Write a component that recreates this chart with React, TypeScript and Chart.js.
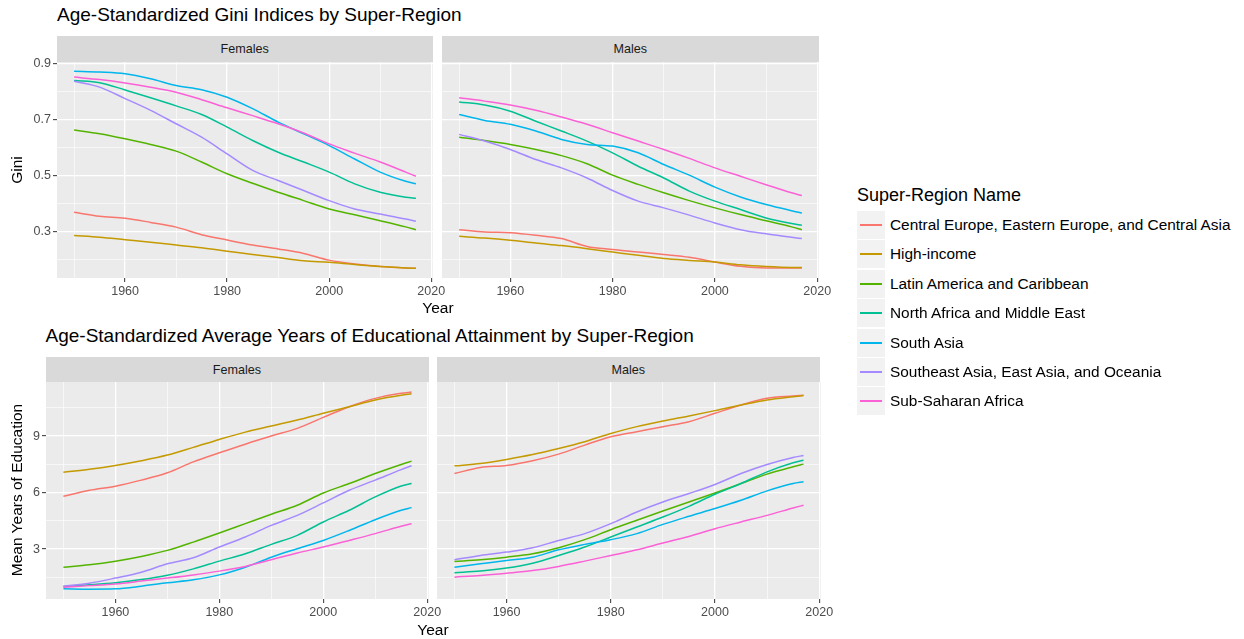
import React, { useEffect, useRef } from "react";
import { Chart, registerables } from "chart.js";

Chart.register(...registerables);

// Sample years shared by every series
const YEARS = [1950, 1955, 1960, 1965, 1970, 1975, 1980, 1985, 1990, 1995, 2000, 2005, 2010, 2015, 2017];

const REGIONS = [
  "Central Europe, Eastern Europe, and Central Asia",
  "High-income",
  "Latin America and Caribbean",
  "North Africa and Middle East",
  "South Asia",
  "Southeast Asia, East Asia, and Oceania",
  "Sub-Saharan Africa",
];

const COLORS = ["#F8766D", "#C49A00", "#53B400", "#00C094", "#00B6EB", "#A58AFF", "#FB61D7"];

// Gini index, females
const giniFemCE = [0.368, 0.354, 0.347, 0.332, 0.315, 0.288, 0.269, 0.251, 0.237, 0.221, 0.197, 0.183, 0.174, 0.169, 0.168];
const giniFemHI = [0.285, 0.279, 0.270, 0.261, 0.251, 0.241, 0.229, 0.217, 0.206, 0.195, 0.189, 0.181, 0.174, 0.169, 0.168];
const giniFemLA = [0.663, 0.649, 0.631, 0.611, 0.587, 0.548, 0.506, 0.472, 0.440, 0.410, 0.380, 0.359, 0.338, 0.316, 0.306];
const giniFemNA = [0.840, 0.832, 0.806, 0.778, 0.749, 0.718, 0.673, 0.625, 0.583, 0.548, 0.512, 0.470, 0.440, 0.422, 0.418];
const giniFemSA = [0.873, 0.870, 0.864, 0.846, 0.822, 0.807, 0.780, 0.739, 0.691, 0.649, 0.607, 0.559, 0.512, 0.479, 0.470];
const giniFemSE = [0.837, 0.816, 0.775, 0.733, 0.685, 0.637, 0.577, 0.518, 0.482, 0.446, 0.410, 0.380, 0.362, 0.344, 0.336];
const giniFemSS = [0.852, 0.843, 0.831, 0.816, 0.798, 0.771, 0.742, 0.714, 0.685, 0.652, 0.613, 0.580, 0.548, 0.512, 0.497];

// Gini index, males
const giniMalCE = [0.306, 0.298, 0.295, 0.286, 0.274, 0.246, 0.235, 0.226, 0.217, 0.207, 0.190, 0.175, 0.169, 0.169, 0.169];
const giniMalHI = [0.282, 0.276, 0.268, 0.258, 0.249, 0.238, 0.226, 0.214, 0.203, 0.196, 0.190, 0.180, 0.174, 0.171, 0.171];
const giniMalLA = [0.637, 0.625, 0.611, 0.593, 0.571, 0.542, 0.501, 0.468, 0.438, 0.410, 0.384, 0.360, 0.338, 0.316, 0.306];
const giniMalNA = [0.763, 0.752, 0.730, 0.694, 0.659, 0.623, 0.581, 0.533, 0.491, 0.444, 0.408, 0.378, 0.348, 0.328, 0.322];
const giniMalSA = [0.718, 0.697, 0.683, 0.659, 0.629, 0.611, 0.605, 0.581, 0.539, 0.501, 0.458, 0.423, 0.396, 0.374, 0.366];
const giniMalSE = [0.647, 0.623, 0.593, 0.557, 0.527, 0.491, 0.446, 0.408, 0.384, 0.358, 0.330, 0.306, 0.291, 0.279, 0.274];
const giniMalSS = [0.778, 0.766, 0.752, 0.733, 0.709, 0.683, 0.653, 0.623, 0.593, 0.561, 0.527, 0.497, 0.467, 0.438, 0.428];

// Mean years of education, females
const eduFemCE = [5.80, 6.12, 6.34, 6.66, 7.05, 7.63, 8.11, 8.57, 9.00, 9.41, 9.99, 10.56, 11.00, 11.27, 11.34];
const eduFemHI = [7.08, 7.24, 7.44, 7.69, 7.99, 8.40, 8.82, 9.21, 9.53, 9.85, 10.21, 10.56, 10.92, 11.17, 11.24];
const eduFemLA = [2.04, 2.17, 2.36, 2.61, 2.93, 3.37, 3.85, 4.35, 4.85, 5.33, 5.98, 6.48, 7.01, 7.49, 7.67];
const eduFemNA = [1.01, 1.10, 1.21, 1.38, 1.61, 1.95, 2.36, 2.75, 3.25, 3.73, 4.44, 5.06, 5.77, 6.35, 6.48];
const eduFemSA = [0.89, 0.87, 0.89, 1.03, 1.21, 1.37, 1.63, 2.04, 2.57, 3.02, 3.46, 3.99, 4.56, 5.06, 5.20];
const eduFemSE = [1.03, 1.19, 1.46, 1.77, 2.22, 2.54, 3.11, 3.64, 4.26, 4.79, 5.45, 6.12, 6.66, 7.22, 7.42];
const eduFemSS = [0.98, 1.06, 1.15, 1.30, 1.46, 1.63, 1.83, 2.08, 2.43, 2.79, 3.11, 3.46, 3.82, 4.21, 4.35];

// Mean years of education, males
const eduMalCE = [7.01, 7.33, 7.44, 7.69, 8.04, 8.52, 8.96, 9.23, 9.50, 9.76, 10.21, 10.65, 11.01, 11.13, 11.17];
const eduMalHI = [7.42, 7.54, 7.76, 8.02, 8.34, 8.70, 9.14, 9.50, 9.80, 10.07, 10.35, 10.65, 10.92, 11.09, 11.15];
const eduMalLA = [2.34, 2.43, 2.57, 2.75, 3.07, 3.50, 4.03, 4.53, 5.02, 5.50, 5.98, 6.48, 6.98, 7.37, 7.51];
const eduMalNA = [1.74, 1.83, 1.99, 2.25, 2.66, 3.11, 3.64, 4.17, 4.70, 5.27, 5.91, 6.48, 7.10, 7.58, 7.72];
const eduMalSA = [2.04, 2.22, 2.40, 2.57, 2.96, 3.25, 3.50, 3.82, 4.31, 4.74, 5.15, 5.59, 6.09, 6.48, 6.57];
const eduMalSE = [2.43, 2.66, 2.84, 3.07, 3.46, 3.82, 4.35, 4.97, 5.50, 5.95, 6.43, 7.01, 7.49, 7.86, 7.97];
const eduMalSS = [1.51, 1.60, 1.72, 1.86, 2.08, 2.36, 2.66, 2.96, 3.32, 3.67, 4.08, 4.44, 4.79, 5.18, 5.33];

// Axis breaks (major carry labels, minor only grid lines)
const X_MAJOR = [1960, 1980, 2000, 2020];
const X_MINOR = [1950, 1970, 1990, 2010];
const GINI_MAJOR = [0.3, 0.5, 0.7, 0.9];
const GINI_MINOR = [0.2, 0.4, 0.6, 0.8];
const EDU_MAJOR = [3, 6, 9];
const EDU_MINOR = [1.5, 4.5, 7.5, 10.5];

const X_RANGE = [1946.65, 2020.35];
const GINI_RANGE = [0.133, 0.906];
const EDU_RANGE = [0.35, 11.87];

const FONT = "'Liberation Sans', Arial, Helvetica, sans-serif";

type PanelDef = {
  left: number;
  top: number;
  right: number;
  bottom: number;
  series: number[][];
  yRange: number[];
  yMajor: number[];
  yMinor: number[];
  showYLabels: boolean;
};

const AX_W = 40;
const PAD_T = 12;
const PAD_R = 24;
const AX_H = 24;

const PANELS: PanelDef[] = [
  {
    left: 57, top: 62, right: 432.5, bottom: 278,
    series: [giniFemCE, giniFemHI, giniFemLA, giniFemNA, giniFemSA, giniFemSE, giniFemSS],
    yRange: GINI_RANGE, yMajor: GINI_MAJOR, yMinor: GINI_MINOR, showYLabels: true,
  },
  {
    left: 442, top: 62, right: 818.5, bottom: 278,
    series: [giniMalCE, giniMalHI, giniMalLA, giniMalNA, giniMalSA, giniMalSE, giniMalSS],
    yRange: GINI_RANGE, yMajor: GINI_MAJOR, yMinor: GINI_MINOR, showYLabels: false,
  },
  {
    left: 45.5, top: 382, right: 428.5, bottom: 599,
    series: [eduFemCE, eduFemHI, eduFemLA, eduFemNA, eduFemSA, eduFemSE, eduFemSS],
    yRange: EDU_RANGE, yMajor: EDU_MAJOR, yMinor: EDU_MINOR, showYLabels: true,
  },
  {
    left: 436.5, top: 382, right: 820, bottom: 599,
    series: [eduMalCE, eduMalHI, eduMalLA, eduMalNA, eduMalSA, eduMalSE, eduMalSS],
    yRange: EDU_RANGE, yMajor: EDU_MAJOR, yMinor: EDU_MINOR, showYLabels: false,
  },
];

const panelBackground = {
  id: "panelBackground",
  beforeDraw(chart: any) {
    const { ctx, chartArea } = chart;
    ctx.save();
    ctx.fillStyle = "#EBEBEB";
    ctx.fillRect(chartArea.left, chartArea.top, chartArea.right - chartArea.left, chartArea.bottom - chartArea.top);
    ctx.restore();
  },
};

function makeChart(canvas: HTMLCanvasElement, p: PanelDef) {
  const xTicks = [...X_MINOR, ...X_MAJOR].sort((a, b) => a - b);
  const yTicks = [...p.yMinor, ...p.yMajor].sort((a, b) => a - b);
  const isMajor = (list: number[], v: number) => list.some((m) => Math.abs(m - v) < 1e-9);
  const tickFont = { family: FONT, size: 12.5 };

  return new Chart(canvas, {
    type: "line",
    data: {
      datasets: p.series.map((vals, i) => ({
        label: REGIONS[i],
        data: YEARS.map((yr, k) => ({ x: yr, y: vals[k] })),
        borderColor: COLORS[i],
        backgroundColor: COLORS[i],
        borderWidth: 1.5,
        pointRadius: 0,
        fill: false,
        cubicInterpolationMode: "monotone" as const,
        order: REGIONS.length - i,
      })),
    },
    options: {
      animation: false,
      responsive: false,
      maintainAspectRatio: false,
      events: [],
      layout: { padding: { left: 0, top: PAD_T, right: PAD_R, bottom: 0 } },
      plugins: { legend: { display: false }, tooltip: { enabled: false }, title: { display: false } },
      scales: {
        x: {
          type: "linear",
          min: X_RANGE[0],
          max: X_RANGE[1],
          bounds: "data",
          afterBuildTicks: (s: any) => {
            s.ticks = xTicks.map((v) => ({ value: v }));
          },
          afterFit: (s: any) => {
            s.height = AX_H;
          },
          ticks: {
            autoSkip: false,
            maxRotation: 0,
            padding: 2,
            color: "#4D4D4D",
            font: tickFont,
            callback: (v: any) => (isMajor(X_MAJOR, Number(v)) ? String(v) : ""),
          },
          grid: {
            color: "#FFFFFF",
            lineWidth: (c: any) => (c.tick && isMajor(X_MAJOR, c.tick.value) ? 1.3 : 0.6),
            tickLength: 4,
            tickWidth: 1,
            tickColor: (c: any) => (c.tick && isMajor(X_MAJOR, c.tick.value) ? "#333333" : "rgba(0,0,0,0)"),
          },
          border: { display: false },
        },
        y: {
          type: "linear",
          min: p.yRange[0],
          max: p.yRange[1],
          bounds: "data",
          afterBuildTicks: (s: any) => {
            s.ticks = yTicks.map((v) => ({ value: v }));
          },
          afterFit: (s: any) => {
            s.width = AX_W;
          },
          ticks: {
            autoSkip: false,
            padding: 2,
            color: "#4D4D4D",
            font: tickFont,
            callback: (v: any) => {
              const n = Number(v);
              if (!p.showYLabels || !isMajor(p.yMajor, n)) return "";
              return p.yRange === GINI_RANGE ? n.toFixed(1) : String(n);
            },
          },
          grid: {
            color: "#FFFFFF",
            lineWidth: (c: any) => (c.tick && isMajor(p.yMajor, c.tick.value) ? 1.3 : 0.6),
            tickLength: 4,
            tickWidth: 1,
            tickColor: (c: any) =>
              p.showYLabels && c.tick && isMajor(p.yMajor, c.tick.value) ? "#333333" : "rgba(0,0,0,0)",
          },
          border: { display: false },
        },
      },
    },
    plugins: [panelBackground],
  } as any);
}

const abs = (s: React.CSSProperties): React.CSSProperties => ({ position: "absolute", whiteSpace: "nowrap", ...s });

function Strip({ left, right, top, bottom, text }: { left: number; right: number; top: number; bottom: number; text: string }) {
  return (
    <div
      style={abs({
        left,
        top,
        width: right - left,
        height: bottom - top,
        background: "#D9D9D9",
        color: "#1A1A1A",
        fontFamily: FONT,
        fontSize: 12.6,
        display: "flex",
        alignItems: "center",
        justifyContent: "center",
      })}
    >
      {text}
    </div>
  );
}

export default function App() {
  const refs = useRef<(HTMLCanvasElement | null)[]>([]);

  useEffect(() => {
    const charts = PANELS.map((p, i) => makeChart(refs.current[i] as HTMLCanvasElement, p));
    return () => charts.forEach((c) => c.destroy());
  }, []);

  return (
    <div style={abs({ left: 0, top: 0, width: 1244, height: 639, background: "#FFFFFF", overflow: "hidden", fontFamily: FONT })}>
      <div style={abs({ left: 57, top: 5, fontSize: 19, lineHeight: "19px", color: "#000" })}>
        Age-Standardized Gini Indices by Super-Region
      </div>
      <div style={abs({ left: 45.5, top: 326, fontSize: 19, lineHeight: "19px", color: "#000" })}>
        Age-Standardized Average Years of Educational Attainment by Super-Region
      </div>

      <Strip left={57} right={432.5} top={36} bottom={62} text="Females" />
      <Strip left={442} right={818.5} top={36} bottom={62} text="Males" />
      <Strip left={45.5} right={428.5} top={357} bottom={382} text="Females" />
      <Strip left={436.5} right={820} top={357} bottom={382} text="Males" />

      {PANELS.map((p, i) => {
        const w = p.right - p.left + AX_W + PAD_R;
        const h = p.bottom - p.top + PAD_T + AX_H;
        return (
          <canvas
            key={i}
            ref={(el) => {
              refs.current[i] = el;
            }}
            width={Math.round(w)}
            height={Math.round(h)}
            style={abs({ left: p.left - AX_W, top: p.top - PAD_T, width: Math.round(w), height: Math.round(h) })}
          />
        );
      })}

      {/* axis titles */}
      <div style={abs({ left: 438, top: 308, transform: "translate(-50%, -50%)", fontSize: 15.5, lineHeight: 1, color: "#000" })}>
        Year
      </div>
      <div style={abs({ left: 433, top: 630, transform: "translate(-50%, -50%)", fontSize: 15.5, lineHeight: 1, color: "#000" })}>
        Year
      </div>
      <div style={abs({ left: 17, top: 170, transform: "translate(-50%, -50%) rotate(-90deg)", fontSize: 15.5, lineHeight: 1, color: "#000" })}>
        Gini
      </div>
      <div style={abs({ left: 17, top: 490, transform: "translate(-50%, -50%) rotate(-90deg)", fontSize: 15.5, lineHeight: 1, color: "#000" })}>
        Mean Years of Education
      </div>

      {/* legend */}
      <div style={abs({ left: 857, top: 186, fontSize: 18, lineHeight: "18px", color: "#000" })}>Super-Region Name</div>
      {REGIONS.map((name, i) => {
        const top = Math.round(211 + i * 29.4);
        return (
          <React.Fragment key={name}>
            <div style={abs({ left: 857, top, width: 28, height: 28, background: "#F2F2F2" })}>
              <div style={abs({ left: 3, width: 22, top: 13, height: 2, background: COLORS[i] })} />
            </div>
            <div style={abs({ left: 890, top: top + 14, transform: "translateY(-50%)", fontSize: 15.4, lineHeight: 1, color: "#000" })}>
              {name}
            </div>
          </React.Fragment>
        );
      })}
    </div>
  );
}
